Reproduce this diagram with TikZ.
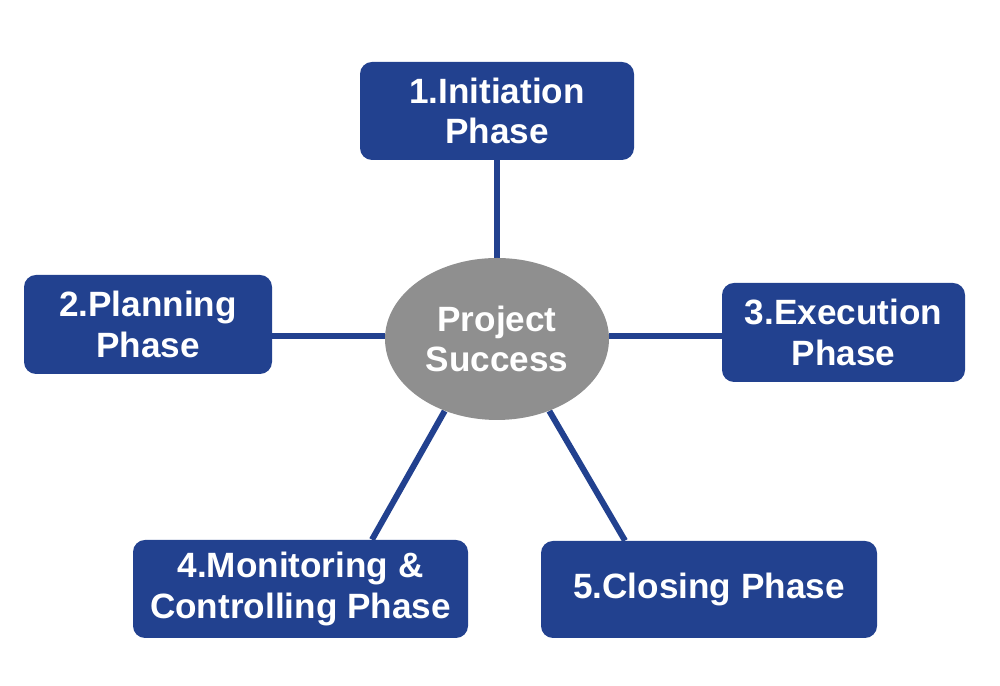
\documentclass[tikz,border=0pt]{standalone}
\usepackage{fontspec}
\setmainfont{Liberation Sans}
\usetikzlibrary{positioning}
\usetikzlibrary{shapes.geometric}
\usetikzlibrary{backgrounds}
\definecolor{phaseblue}{HTML}{22418F}
\definecolor{hubgray}{HTML}{8F8F8F}

\begin{document}
\begin{tikzpicture}[
  phase/.style={fill=phaseblue, rounded corners=0.24cm, text=white, align=center,
    font=\fontsize{20}{23.2}\selectfont\bfseries, inner sep=0pt},
  hub/.style={ellipse, fill=hubgray, text=white, align=center,
    font=\fontsize{20}{23.2}\selectfont\bfseries, inner sep=0pt},
  link/.style={phaseblue, line width=0.12cm}]
\useasboundingbox (0,0) rectangle (20,13.72);
\node [hub, minimum width=4.48cm, minimum height=3.24cm] (hub) at (9.94,6.94) {Project\\Success};
\node [phase, minimum width=5.48cm, minimum height=1.96cm] (init) at (9.94,11.5) {1.Initiation\\Phase};
\node [phase, minimum width=4.96cm, minimum height=1.98cm] (plan) at (2.96,7.23) {2.Planning\\Phase};
\node [phase, minimum width=4.86cm, minimum height=1.98cm] (exec) at (16.87,7.07) {3.Execution\\Phase};
\node [phase, minimum width=6.7cm, minimum height=1.96cm] (moni) at (6.01,1.94) {4.Monitoring \&\\Controlling Phase};
\node [phase, minimum width=6.72cm, minimum height=1.94cm] (clos) at (14.18,1.93) {5.Closing Phase};
\begin{scope}[on background layer]
\draw [link] (init.south) -- (hub.north);
\draw [link] (plan.east |- 0,7) -- (hub.west |- 0,7);
\draw [link] (hub.east |- 0,7) -- (exec.west |- 0,7);
\draw [link] (hub.234) -- ([xshift=1.43cm]moni.north);
\draw [link] (hub.306) -- ([xshift=-1.68cm]clos.north);
\end{scope}
\end{tikzpicture}
\end{document}
